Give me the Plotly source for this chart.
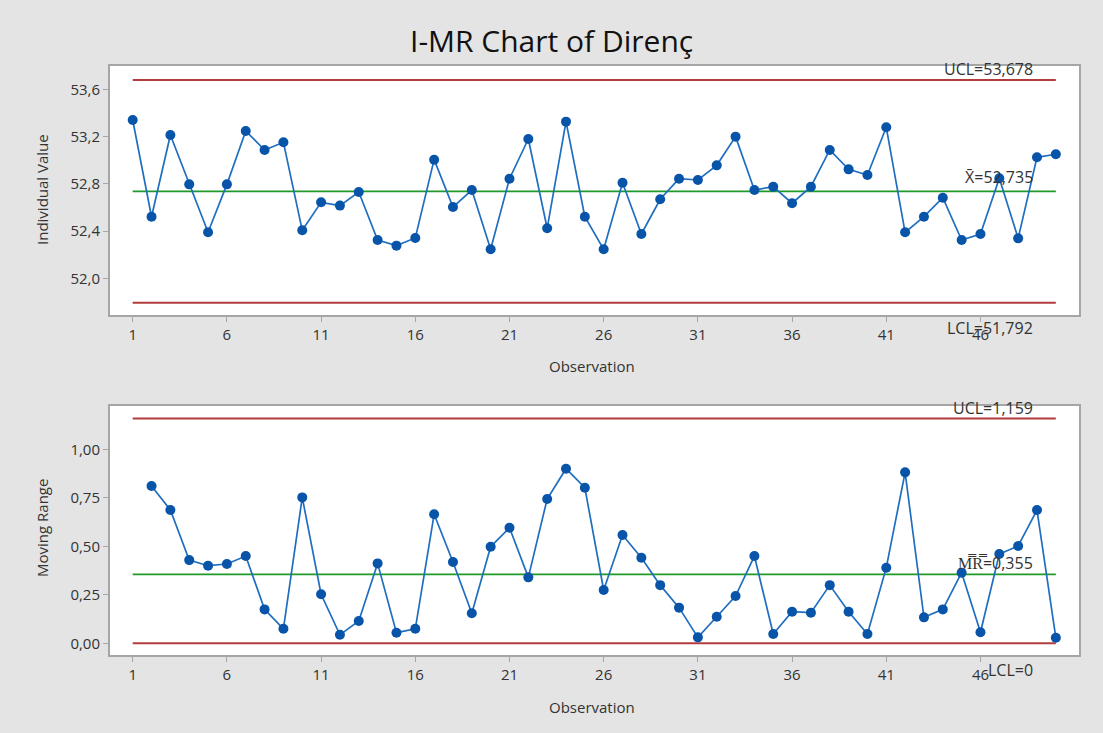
import plotly.graph_objects as go

# Individual measurements of Direnç, observations 1..50
observations = list(range(1, 51))
individual = [53.340, 52.521, 53.213, 52.795, 52.389, 52.795, 53.247, 53.086, 53.151, 52.406,
              52.643, 52.615, 52.730, 52.324, 52.276, 52.341, 53.004, 52.603, 52.747, 52.245,
              52.843, 53.179, 52.423, 53.326, 52.521, 52.245, 52.809, 52.375, 52.669, 52.843,
              52.832, 52.956, 53.199, 52.747, 52.775, 52.635, 52.775, 53.086, 52.922, 52.874,
              53.278, 52.389, 52.521, 52.682, 52.324, 52.375, 52.846, 52.338, 53.024, 53.050]

# Moving ranges, observations 2..50
mr_obs = list(range(2, 51))
moving_range = [0.811, 0.687, 0.429, 0.400, 0.409, 0.450, 0.175, 0.075, 0.752, 0.253,
                0.044, 0.115, 0.412, 0.055, 0.075, 0.665, 0.419, 0.155, 0.498, 0.596,
                0.340, 0.744, 0.900, 0.802, 0.275, 0.558, 0.441, 0.300, 0.184, 0.031,
                0.137, 0.244, 0.450, 0.048, 0.163, 0.158, 0.300, 0.163, 0.048, 0.390,
                0.881, 0.134, 0.175, 0.364, 0.057, 0.460, 0.502, 0.687, 0.029]

# Control limits
i_ucl, i_center, i_lcl = 53.678, 52.735, 51.792
mr_ucl, mr_center, mr_lcl = 1.159, 0.355, 0.0

x_ticks = [1, 6, 11, 16, 21, 26, 31, 36, 41, 46]
i_ticks = [52.0, 52.4, 52.8, 53.2, 53.6]
i_ticktext = ["52,0", "52,4", "52,8", "53,2", "53,6"]
mr_ticks = [0.0, 0.25, 0.5, 0.75, 1.0]
mr_ticktext = ["0,00", "0,25", "0,50", "0,75", "1,00"]

FONT = "Open Sans"
TXT = "#333333"
BORDER = "#a6a6a6"
RED = "#b23b3b"
GREEN = "#1f9a2a"
LINE_BLUE = "#1f6ec0"
MARK_BLUE = "#0754a8"

W, H = 1103, 733


def px_x(p):
    return p / W


def px_y(p):
    return 1 - p / H


fig = go.Figure()

span = [observations[0], observations[-1]]

# --- Individuals chart ---
fig.add_trace(go.Scatter(x=span, y=[i_ucl, i_ucl], mode="lines",
                         line=dict(color=RED, width=2), xaxis="x", yaxis="y", hoverinfo="skip"))
fig.add_trace(go.Scatter(x=span, y=[i_lcl, i_lcl], mode="lines",
                         line=dict(color=RED, width=2), xaxis="x", yaxis="y", hoverinfo="skip"))
fig.add_trace(go.Scatter(x=span, y=[i_center, i_center], mode="lines",
                         line=dict(color=GREEN, width=1.8), xaxis="x", yaxis="y", hoverinfo="skip"))
fig.add_trace(go.Scatter(x=observations, y=individual, mode="lines+markers",
                         line=dict(color=LINE_BLUE, width=1.7),
                         marker=dict(color=MARK_BLUE, size=10),
                         xaxis="x", yaxis="y"))

# --- Moving range chart ---
fig.add_trace(go.Scatter(x=span, y=[mr_ucl, mr_ucl], mode="lines",
                         line=dict(color=RED, width=2), xaxis="x2", yaxis="y2", hoverinfo="skip"))
fig.add_trace(go.Scatter(x=span, y=[mr_lcl, mr_lcl], mode="lines",
                         line=dict(color=RED, width=2), xaxis="x2", yaxis="y2", hoverinfo="skip"))
fig.add_trace(go.Scatter(x=span, y=[mr_center, mr_center], mode="lines",
                         line=dict(color=GREEN, width=1.8), xaxis="x2", yaxis="y2", hoverinfo="skip"))
fig.add_trace(go.Scatter(x=mr_obs, y=moving_range, mode="lines+markers",
                         line=dict(color=LINE_BLUE, width=1.7),
                         marker=dict(color=MARK_BLUE, size=10),
                         xaxis="x2", yaxis="y2"))

x_dom = [px_x(110), px_x(1079)]
x_range = [-0.205, 51.23]

axis_common = dict(showline=True, mirror=True, linecolor=BORDER, linewidth=2,
                   showgrid=False, zeroline=False, ticks="outside", ticklen=5,
                   tickcolor=BORDER, tickwidth=1,
                   tickfont=dict(family=FONT, size=15, color=TXT))

fig.update_layout(
    width=W, height=H,
    margin=dict(l=0, r=0, t=0, b=0),
    paper_bgcolor="#e4e4e4",
    plot_bgcolor="#ffffff",
    showlegend=False,
    xaxis=dict(domain=x_dom, range=x_range, anchor="y",
               tickvals=x_ticks, ticktext=[str(v) for v in x_ticks], **axis_common),
    yaxis=dict(domain=[px_y(315), px_y(66)], range=[51.689, 53.797], anchor="x",
               tickvals=i_ticks, ticktext=i_ticktext, **axis_common),
    xaxis2=dict(domain=x_dom, range=x_range, anchor="y2",
                tickvals=x_ticks, ticktext=[str(v) for v in x_ticks], **axis_common),
    yaxis2=dict(domain=[px_y(655), px_y(406)], range=[-0.060, 1.223], anchor="x2",
                tickvals=mr_ticks, ticktext=mr_ticktext, **axis_common),
)

ann_font = dict(family=FONT, size=16, color=TXT)
lab_font = dict(family=FONT, size=15, color=TXT)
label_x = 48.9

annotations = [
    # title
    dict(text="I-MR Chart of Direnç", x=0.5, y=px_y(40), xref="paper", yref="paper",
         showarrow=False, font=dict(family=FONT, size=30, color="#111111"),
         xanchor="center", yanchor="middle"),
    # axis titles
    dict(text="Observation", x=px_x(592), y=px_y(366), xref="paper", yref="paper",
         showarrow=False, font=lab_font, xanchor="center", yanchor="middle"),
    dict(text="Observation", x=px_x(592), y=px_y(707), xref="paper", yref="paper",
         showarrow=False, font=lab_font, xanchor="center", yanchor="middle"),
    dict(text="Individual Value", x=px_x(42), y=px_y(190), xref="paper", yref="paper",
         showarrow=False, font=lab_font, textangle=-90, xanchor="center", yanchor="middle"),
    dict(text="Moving Range", x=px_x(42), y=px_y(528), xref="paper", yref="paper",
         showarrow=False, font=lab_font, textangle=-90, xanchor="center", yanchor="middle"),
    # control limit labels, individuals
    dict(text="UCL=53,678", x=label_x, y=i_ucl, xref="x", yref="y", showarrow=False,
         font=ann_font, xanchor="right", yanchor="middle", yshift=11),
    dict(text="X\u0304=52,735", x=label_x, y=i_center, xref="x", yref="y", showarrow=False,
         font=ann_font, xanchor="right", yanchor="middle", yshift=14),
    dict(text="LCL=51,792", x=label_x, y=i_lcl, xref="x", yref="y", showarrow=False,
         font=ann_font, xanchor="right", yanchor="middle", yshift=-25),
    # control limit labels, moving range
    dict(text="UCL=1,159", x=label_x, y=mr_ucl, xref="x2", yref="y2", showarrow=False,
         font=ann_font, xanchor="right", yanchor="middle", yshift=10),
    dict(text="M\u033fR\u033f=0,355", x=label_x, y=mr_center, xref="x2", yref="y2", showarrow=False,
         font=ann_font, xanchor="right", yanchor="middle", yshift=11),
    dict(text="LCL=0", x=label_x, y=mr_lcl, xref="x2", yref="y2", showarrow=False,
         font=ann_font, xanchor="right", yanchor="middle", yshift=-27),
]
fig.update_layout(annotations=annotations)

fig.write_html("out.html")
